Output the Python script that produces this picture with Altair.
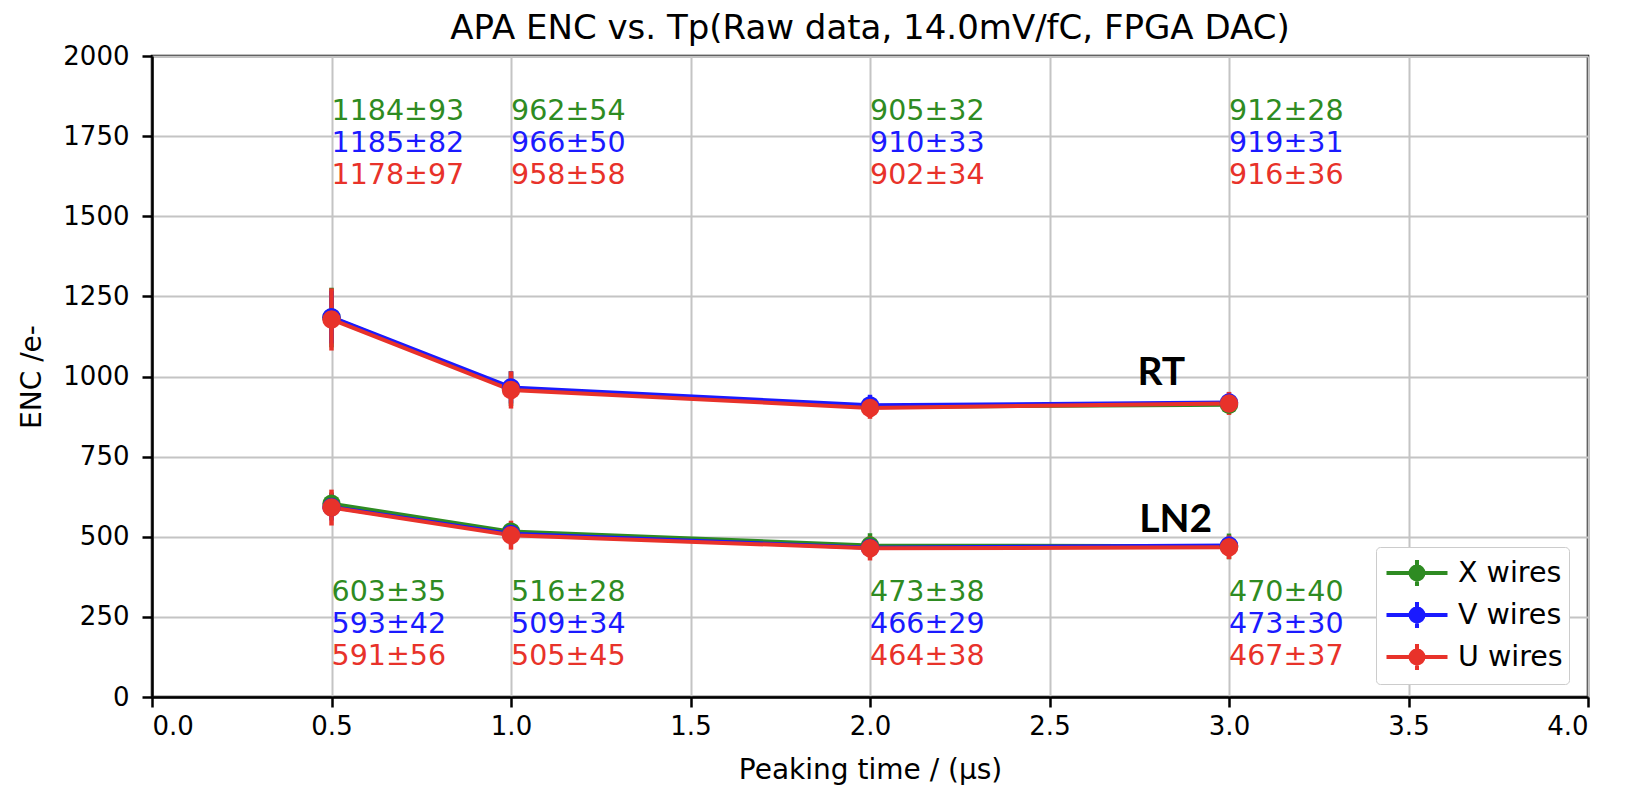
import altair as alt
import pandas as pd

# ---- data ----
tp = [0.5, 1.0, 2.0, 3.0]
wires = ["X wires", "V wires", "U wires"]
wire_colors = ["#2e8b22", "#1a1aff", "#e8322a"]

rt_x = [1184, 962, 905, 912]
rt_x_err = [93, 54, 32, 28]
rt_v = [1185, 966, 910, 919]
rt_v_err = [82, 50, 33, 31]
rt_u = [1178, 958, 902, 916]
rt_u_err = [97, 58, 34, 36]

ln2_x = [603, 516, 473, 470]
ln2_x_err = [35, 28, 38, 40]
ln2_v = [593, 509, 466, 473]
ln2_v_err = [42, 34, 29, 30]
ln2_u = [591, 505, 464, 467]
ln2_u_err = [56, 45, 38, 37]

# annotation rows (data units on the ENC axis)
rt_text_y = [1800, 1700, 1600]
ln2_text_y = [300, 200, 100]

cond_labels = ["RT", "LN2"]
cond_label_x = [2.745, 2.75]
cond_label_y = [975, 515]

title_text = "APA ENC vs. Tp(Raw data, 14.0mV/fC, FPGA DAC)"

# ---- build tables ----
series = {
    ("RT", "X wires"): (rt_x, rt_x_err),
    ("RT", "V wires"): (rt_v, rt_v_err),
    ("RT", "U wires"): (rt_u, rt_u_err),
    ("LN2", "X wires"): (ln2_x, ln2_x_err),
    ("LN2", "V wires"): (ln2_v, ln2_v_err),
    ("LN2", "U wires"): (ln2_u, ln2_u_err),
}
rows = []
for wi, w in enumerate(wires):
    for cond in ["RT", "LN2"]:
        vals, errs = series[(cond, w)]
        ty = (rt_text_y if cond == "RT" else ln2_text_y)[wi]
        for t, v, e in zip(tp, vals, errs):
            rows.append({
                "tp": t, "enc": v, "err": e, "lo": v - e, "hi": v + e,
                "wire": w, "cond": cond, "series": cond + w,
                "label": f"{v}\u00b1{e}", "ty": ty, "worder": wi,
            })
df = pd.DataFrame(rows)
cond_df = pd.DataFrame({"label": cond_labels, "x": cond_label_x, "y": cond_label_y})

cs = alt.Scale(domain=wires, range=wire_colors)
xs = alt.Scale(domain=[0, 4], nice=False)
ys = alt.Scale(domain=[0, 2000], nice=False)

x_enc = alt.X("tp:Q", scale=xs, title="Peaking time / (\u03bcs)",
              axis=alt.Axis(values=[0, 0.5, 1, 1.5, 2, 2.5, 3, 3.5, 4], format=".1f",
                            labelPadding=6, titlePadding=17))
y_enc = alt.Y("enc:Q", scale=ys, title="ENC /e-",
              axis=alt.Axis(values=list(range(0, 2001, 250)), format="d",
                            labelPadding=13, titlePadding=16))

# legend glyph: horizontal line + vertical error bar + filled dot (concentric rings)
u = 18.0  # px per symbol unit (sqrt(symbolSize)/2)
cx = 15 / u
half = 30.5 / u
vbar = 13 / u
parts = [f"M{cx - half:.3f},0L{cx + half:.3f},0", f"M{cx:.3f},{-vbar:.3f}L{cx:.3f},{vbar:.3f}"]
for rp in [6.5, 4.5, 2.5, 0.8]:
    r = rp / u
    parts.append(f"M{cx + r:.3f},0A{r:.3f},{r:.3f},0,1,1,{cx - r:.3f},0A{r:.3f},{r:.3f},0,1,1,{cx + r:.3f},0Z")
legend_path = "".join(parts)

leg = alt.Legend(title=None, orient="none", legendX=1224, legendY=491,
                 symbolType=legend_path, symbolSize=int((2 * u) ** 2), symbolStrokeWidth=4,
                 labelFont="DejaVu Sans", labelFontSize=28.5, labelColor="black",
                 labelOffset=36, rowPadding=0, padding=6,
                 strokeColor="#cccccc", fillColor="white", cornerRadius=4)

color_enc = alt.Color("wire:N", scale=cs, legend=leg)

base = alt.Chart(df)

err = base.mark_rule(strokeWidth=4.5).encode(
    x=x_enc, y=alt.Y("lo:Q", scale=ys), y2="hi:Q", color=color_enc,
)
line = base.mark_line(strokeWidth=4).encode(
    x=x_enc, y=y_enc, color=color_enc, detail="series:N", order="tp:Q",
)
pts = base.mark_point(filled=True, size=340, opacity=1, strokeWidth=0, shape="circle").encode(
    x=x_enc, y=y_enc, color=color_enc, order="worder:Q",
)
txt = base.mark_text(align="left", baseline="alphabetic", font="DejaVu Sans", fontSize=28.5).encode(
    x=x_enc, y=alt.Y("ty:Q", scale=ys), text="label:N", color=color_enc,
)
cond_txt = alt.Chart(cond_df).mark_text(
    align="left", baseline="alphabetic", font="Lato", fontSize=39, fontWeight="bold", color="black"
).encode(x=alt.X("x:Q", scale=xs), y=alt.Y("y:Q", scale=ys), text="label:N")

chart = alt.layer(line, err, pts, txt, cond_txt).properties(
    width=1436, height=641,
    title=alt.TitleParams(title_text, font="DejaVu Sans", fontSize=34, fontWeight="normal",
                          color="black", offset=-3, anchor="middle", frame="group"),
    autosize=alt.AutoSizeParams(type="none"),
    padding={"left": 144, "top": 48, "right": 30, "bottom": 90},
).configure_axis(
    domainColor="black", domainWidth=2.5, tickColor="black", tickWidth=2.5, tickSize=10,
    gridColor="#c4c4c4", gridWidth=2, labelFont="DejaVu Sans", labelFontSize=26,
    labelColor="black", titleFont="DejaVu Sans", titleFontSize=28, titleFontWeight="normal",
    titleColor="black",
).configure_view(stroke="black", strokeWidth=2.5)

chart.save("out.html", embed_options={"renderer": "svg", "actions": False})
